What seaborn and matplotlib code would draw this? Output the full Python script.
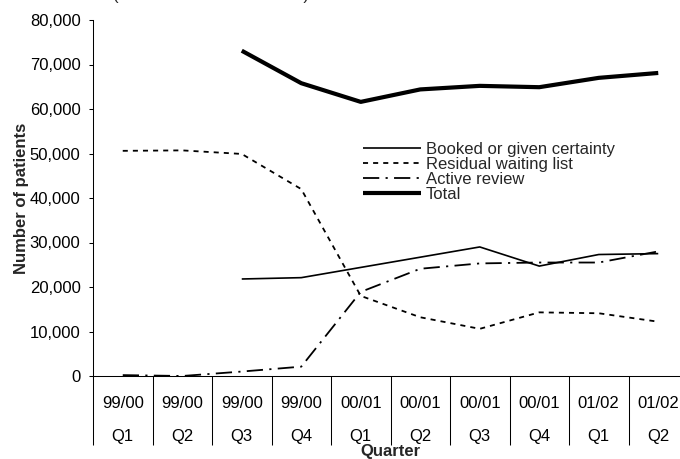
import numpy as np
import pandas as pd
import matplotlib
matplotlib.use("Agg")
import matplotlib.pyplot as plt
import seaborn as sns

# quarters on the x axis
years = ["99/00", "99/00", "99/00", "99/00", "00/01", "00/01", "00/01", "00/01", "01/02", "01/02"]
quarters = ["Q1", "Q2", "Q3", "Q4", "Q1", "Q2", "Q3", "Q4", "Q1", "Q2"]

booked = [np.nan, np.nan, 21800, 22100, 24400, 26700, 29000, 24700, 27300, 27500]
residual = [50600, 50700, 49900, 42000, 18000, 13200, 10600, 14300, 14100, 12200]
active = [200, 0, 1000, 2100, 18900, 24100, 25300, 25500, 25500, 28000]
total = [np.nan, np.nan, 73100, 65800, 61600, 64400, 65200, 64900, 67000, 68100]

series_names = ["Booked or given certainty", "Residual waiting list", "Active review", "Total"]
series_values = [booked, residual, active, total]

sns.set_theme(style="white")
plt.rcParams["font.family"] = ["Liberation Sans", "DejaVu Sans"]
plt.rcParams["font.size"] = 12

df = pd.DataFrame({"x": np.arange(len(quarters))})
for name, vals in zip(series_names, series_values):
    df[name] = vals

fig = plt.figure(figsize=(6.8, 4.59), dpi=100)
# the plot area runs past the right edge of the picture, as in the source
ax = fig.add_axes([93 / 680, 1 - 376 / 459, 595 / 680, 356 / 459])

styles = {
    "Booked or given certainty": dict(linestyle="-", lw=1.2),
    "Residual waiting list": dict(linestyle=(0, (2.8, 2.8)), lw=1.3),
    "Active review": dict(linestyle=(0, (9, 3.5, 1.2, 3.5)), lw=1.3),
    "Total": dict(linestyle="-", lw=3.0),
}
for name in series_names:
    sns.lineplot(data=df, x="x", y=name, ax=ax, color="black", label=name,
                 errorbar=None, solid_capstyle="butt", dash_capstyle="butt",
                 **styles[name])

ax.set_xlim(-0.5, len(quarters) - 0.5)
ax.set_ylim(0, 80000)
ax.set_yticks(np.arange(0, 80001, 10000))
ax.yaxis.set_major_formatter(matplotlib.ticker.FuncFormatter(lambda v, p: f"{v:,.0f}"))
ax.tick_params(axis="y", direction="out", length=3, width=0.75, pad=6,
               labelsize=12, colors="black", left=True)

# two-row category labels with long separator ticks
ax.set_xticks(np.arange(len(quarters)))
ax.set_xticklabels([f"{y}\n{q}" for y, q in zip(years, quarters)], linespacing=2.45)
ax.set_xticks(np.arange(len(quarters) + 1) - 0.5, minor=True)
ax.tick_params(axis="x", which="major", length=0, pad=14.5, labelsize=12, colors="black")
ax.tick_params(axis="x", which="minor", direction="out", length=50, width=0.75,
               color="black", bottom=True)

ax.set_xlabel("Quarter", fontweight="bold", fontsize=12)
ax.xaxis.set_label_coords(0.5, -0.192)
ax.set_ylabel("Number of patients", fontweight="bold", fontsize=12)
ax.yaxis.set_label_coords(-0.108, 0.5)

for side in ["top", "right"]:
    ax.spines[side].set_visible(False)
for side in ["left", "bottom"]:
    ax.spines[side].set_color("black")
    ax.spines[side].set_linewidth(0.75)

ax.legend(loc="upper left", bbox_to_anchor=(363 / 680, 1 - 142 / 459),
          bbox_transform=fig.transFigure, frameon=False, fontsize=12,
          handlelength=3.5, handletextpad=0.25, labelspacing=0.0,
          borderpad=0, borderaxespad=0)

# clipped caption at the top of the source picture: only the brackets reach into view
fig.text(113 / 680, 1.0, "(at the end of each month)", ha="left", va="baseline", fontsize=12)

fig.savefig("out.png", dpi=100)
